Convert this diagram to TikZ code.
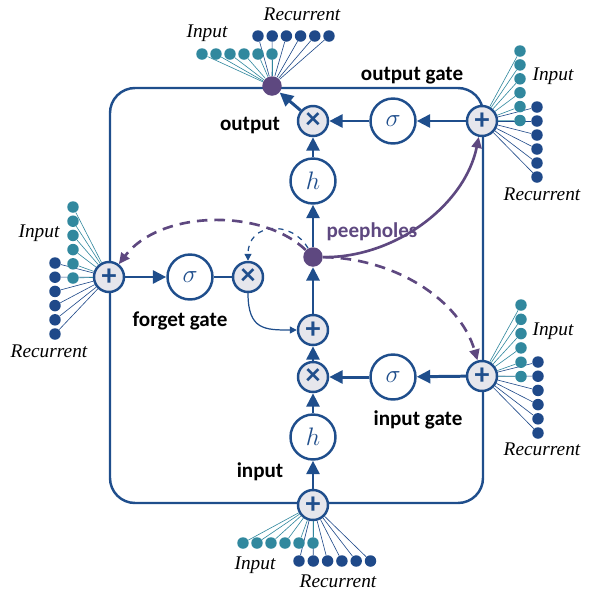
\documentclass[tikz,border=0pt]{standalone}
\usepackage{fontspec}
\setmainfont{Carlito}
\newfontfamily\fanfont{Liberation Serif}
\usetikzlibrary{arrows.meta}

\definecolor{lstmblue}{RGB}{31,78,140}
\definecolor{lstmpurple}{RGB}{94,72,128}
\definecolor{inteal}{RGB}{49,136,158}
\definecolor{recblue}{RGB}{31,73,137}
\definecolor{sumgray}{RGB}{230,230,236}

\tikzset{
    sumnode/.style={circle, draw=lstmblue, fill=sumgray, line width=1.4pt, minimum size=0.6cm, inner sep=0pt, text=lstmblue, font=\fontsize{17}{17}\bfseries\selectfont},
    actnode/.style={circle, draw=lstmblue, fill=white, line width=1.4pt, minimum size=0.9cm, inner sep=0pt, text=lstmblue, font=\fontsize{15}{15}\selectfont},
    joindot/.style={circle, fill=lstmpurple, minimum size=0.39cm, inner sep=0pt},
    indot/.style={circle, fill=inteal, minimum size=0.23cm, inner sep=0pt},
    recdot/.style={circle, fill=recblue, minimum size=0.23cm, inner sep=0pt},
    inwire/.style={draw=inteal, line width=0.35pt},
    recwire/.style={draw=recblue, line width=0.35pt},
    flow/.style={draw=lstmblue, line width=1.7pt, -{Triangle[length=0.27cm, width=0.26cm]}},
    peep/.style={draw=lstmpurple, line width=1.5pt, -{Triangle[length=0.22cm, width=0.2cm]}},
    gatelabel/.style={font=\fontsize{12}{14}\bfseries\selectfont},
    fanlabel/.style={font=\fanfont\itshape\fontsize{11}{13}\selectfont}
}

\begin{document}
\begin{tikzpicture}[x=0.02cm, y=-0.02cm]
    \useasboundingbox (0,0) rectangle (594,596);

    % cell border
    \draw[lstmblue, line width=1.4pt, rounded corners=0.5cm] (110,88) rectangle (483,503);

    % gates and cell
    \node[joindot] (outjoin) at (272,86) {};
    \node[sumnode] (osum) at (482,121) {+};
    \node[actnode] (osig) at (393,121) {$\sigma$};
    \node[sumnode] (omul) at (313,121) {×};
    \node[actnode] (hout) at (313,181) {$h$};
    \node[joindot] (peepdot) at (313,257) {};
    \node[sumnode] (fsum) at (109,277) {+};
    \node[actnode] (fsig) at (190,277) {$\sigma$};
    \node[sumnode] (fmul) at (248,277) {×};
    \node[sumnode] (csum) at (313,330) {+};
    \node[sumnode] (imul) at (313,377) {×};
    \node[actnode] (isig) at (393,377) {$\sigma$};
    \node[sumnode] (isum) at (482,376) {+};
    \node[actnode] (hin) at (313,437) {$h$};
    \node[sumnode] (insum) at (313,505) {+};

    % input and recurrent fans
    \foreach \i in {0,...,5} {
        \node[indot] (ti\i) at (202+14*\i,54) {};
        \node[recdot] (tr\i) at (258+14.2*\i,36) {};
        \draw[inwire] (ti\i) -- (outjoin);
        \draw[recwire] (tr\i) -- (outjoin);
        \node[indot] (oi\i) at (520,51+13.9*\i) {};
        \node[recdot] (or\i) at (537,107+14*\i) {};
        \draw[inwire] (oi\i) -- (osum);
        \draw[recwire] (or\i) -- (osum);
        \node[indot] (fi\i) at (73,207+14.2*\i) {};
        \node[recdot] (fr\i) at (55,263+14.2*\i) {};
        \draw[inwire] (fi\i) -- (fsum);
        \draw[recwire] (fr\i) -- (fsum);
        \node[indot] (ii\i) at (521,305+14.3*\i) {};
        \node[recdot] (ir\i) at (538,362+14.2*\i) {};
        \draw[inwire] (ii\i) -- (isum);
        \draw[recwire] (ir\i) -- (isum);
        \node[indot] (bi\i) at (243+14*\i,543) {};
        \node[recdot] (br\i) at (299+14.3*\i,561) {};
        \draw[inwire] (bi\i) -- (insum);
        \draw[recwire] (br\i) -- (insum);
    }

    % main flow
    \draw[flow] (osum) -- (osig);
    \draw[flow] (osig) -- (omul);
    \draw[flow] (omul) -- (outjoin);
    \draw[flow] (hout) -- (omul);
    \draw[flow] (peepdot) -- (hout);
    \draw[flow] (csum) -- (peepdot);
    \draw[flow] (imul) -- (csum);
    \draw[flow] (isum) -- (isig);
    \draw[flow] (isig) -- (imul);
    \draw[flow] (hin) -- (imul);
    \draw[flow] (insum) -- (hin);
    \draw[flow] (fsum) -- (fsig);
    \draw[draw=lstmblue, line width=1.7pt] (fsig) -- (fmul);
    \draw[draw=lstmblue, line width=0.7pt, -{Triangle[length=0.14cm, width=0.14cm]}] (fmul) .. controls (248,330) and (265,330) .. (csum);
    \draw[draw=lstmblue, line width=0.7pt, dashed, -{Triangle[length=0.14cm, width=0.14cm]}] (peepdot) .. controls (292,220) and (248,222) .. (fmul);

    % peepholes
    \draw[peep] (peepdot) .. controls (395,258) and (465,205) .. (osum);
    \draw[peep, dashed, dash pattern=on 6pt off 4pt] (peepdot) .. controls (395,258) and (460,300) .. (isum);
    \draw[peep, dashed, dash pattern=on 6pt off 4pt] (peepdot) .. controls (262,208) and (160,210) .. (fsum);

    % labels
    \node[gatelabel] (lbloutgate) at (412,76) {output gate};
    \node[gatelabel] (lblout) at (250,126) {output};
    \node[gatelabel, text=lstmpurple] (lblpeep) at (372,232) {peepholes};
    \node[gatelabel] (lblforget) at (180,321) {forget gate};
    \node[gatelabel] (lblingate) at (418,420) {input gate};
    \node[gatelabel] (lblin) at (260,472) {input};
    \node[fanlabel] at (207,33) {Input};
    \node[fanlabel] at (302,14) {Recurrent};
    \node[fanlabel] at (553,76) {Input};
    \node[fanlabel] at (542,194) {Recurrent};
    \node[fanlabel] at (39,233) {Input};
    \node[fanlabel] at (49,351) {Recurrent};
    \node[fanlabel] at (553,331) {Input};
    \node[fanlabel] at (542,449) {Recurrent};
    \node[fanlabel] at (255,565) {Input};
    \node[fanlabel] at (338,581) {Recurrent};
\end{tikzpicture}
\end{document}
